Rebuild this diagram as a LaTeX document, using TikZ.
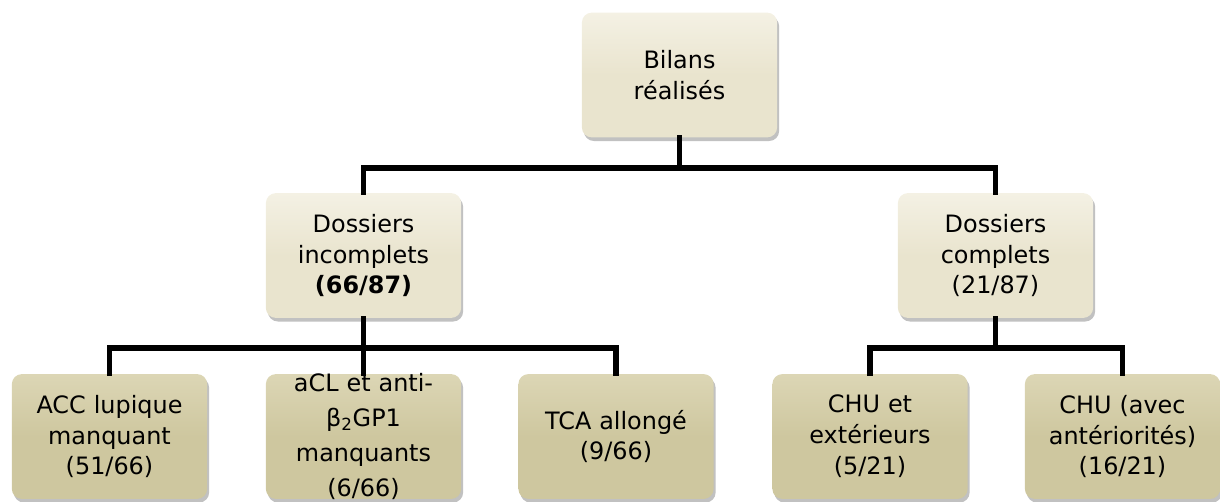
\documentclass[tikz,border=0pt]{standalone}
\usepackage{fontspec}
\setmainfont{DejaVu Sans}
\usepackage{tikz}
\usetikzlibrary{shadows}

\definecolor{lightbeige}{HTML}{E9E4CE}
\definecolor{lightbeigetop}{HTML}{F4F1E4}
\definecolor{khaki}{HTML}{CEC79F}
\definecolor{khakitop}{HTML}{DCD6B5}

\begin{document}
\begin{tikzpicture}[x=0.025cm,y=-0.025cm]
\tikzstyle{box}=[rounded corners=0.25cm,draw=none,align=center,
    minimum width=4.88cm,minimum height=3.12cm,text width=4.6cm,inner sep=2pt,
    font=\fontsize{17}{22}\selectfont,
    drop shadow={shadow xshift=0.05cm,shadow yshift=-0.09cm,opacity=0.35,fill=black!70}]
\tikzstyle{upper}=[box,top color=lightbeigetop,bottom color=lightbeige,middle color=lightbeige]
\tikzstyle{lower}=[box,top color=khakitop,bottom color=khaki,middle color=khaki]
\tikzstyle{link}=[line width=3.6pt,line cap=rect]
\useasboundingbox (0,0) rectangle (1220,501);
\node [upper] (bilans) at (679.5,75) {Bilans\\réalisés};
\node [upper] (incomplets) at (363.5,255.5) {Dossiers\\incomplets\\\textbf{(66/87)}};
\node [upper] (complets) at (995.5,255.5) {Dossiers\\complets\\(21/87)};
\node [lower] (acc) at (109.5,436.5) {ACC lupique\\manquant\\(51/66)};
\node [lower,font=\fontsize{17}{25}\selectfont,inner ysep=-8pt] (acl) at (363.5,436.5)
    {aCL et anti-\\β\textsubscript{2}GP1\\manquants\\(6/66)};
\node [lower] (tca) at (616,436.5) {TCA allongé\\(9/66)};
\node [lower] (ext) at (870,436.5) {CHU et\\extérieurs\\(5/21)};
\node [lower] (chu) at (1122.5,436.5) {CHU (avec\\antériorités)\\(16/21)};
\coordinate (bar1) at (0,168);
\coordinate (bar2) at (0,348);
\draw [link] (bilans.south) -- (bilans.south |- bar1) -| (incomplets.north);
\draw [link] (bilans.south |- bar1) -| (complets.north);
\draw [link] (incomplets.south) -- (incomplets.south |- bar2) -| (acc.north);
\draw [link] (incomplets.south |- bar2) -- (acl.north);
\draw [link] (incomplets.south |- bar2) -| (tca.north);
\draw [link] (complets.south) -- (complets.south |- bar2) -| (ext.north);
\draw [link] (complets.south |- bar2) -| (chu.north);
\end{tikzpicture}
\end{document}
